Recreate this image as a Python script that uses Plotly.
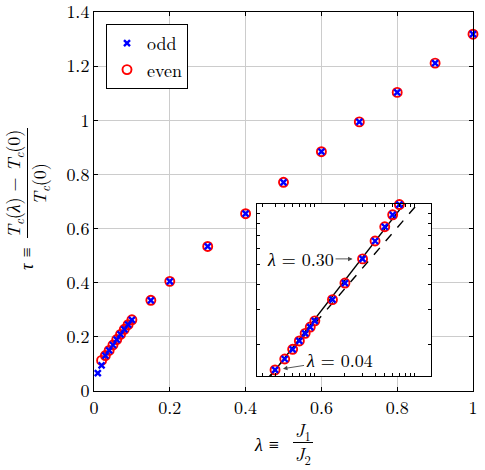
import numpy as np
import plotly.graph_objects as go

# ---------------- data ----------------
lam_odd = [0.01, 0.02, 0.03, 0.04, 0.05, 0.06, 0.07, 0.08, 0.09, 0.10,
           0.15, 0.2, 0.3, 0.4, 0.5, 0.6, 0.7, 0.8, 0.9, 1.0]
tau_odd = [0.066, 0.095, 0.131, 0.150, 0.170, 0.190, 0.209, 0.228, 0.245, 0.263,
           0.335, 0.405, 0.534, 0.655, 0.771, 0.884, 0.994, 1.103, 1.211, 1.318]

lam_even = [0.02, 0.03, 0.04, 0.05, 0.06, 0.07, 0.08, 0.09, 0.10,
            0.15, 0.2, 0.3, 0.4, 0.5, 0.6, 0.7, 0.8, 0.9, 1.0]
tau_even = [0.113, 0.131, 0.150, 0.170, 0.190, 0.209, 0.228, 0.245, 0.263,
            0.335, 0.405, 0.534, 0.655, 0.771, 0.884, 0.994, 1.103, 1.211, 1.318]

# power-law fits shown in the log-log inset: tau = A * lam**b
fit_solid = {"A": 1.173, "b": 0.64}
fit_dashed = {"A": 0.965, "b": 0.578}

x_ticks = [0, 0.2, 0.4, 0.6, 0.8, 1]
y_ticks = [0, 0.2, 0.4, 0.6, 0.8, 1, 1.2, 1.4]
y_ticktext = ["0", "0.2", "0.4", "0.6", "0.8", "1", "1.2", "1.4"]

inset_xrange = [0.0264, 1.45]
inset_yrange = [0.140, 1.0]

# ---------------- style ----------------
FONT = "Latin Modern Roman"
FS = 18
BLUE = "#0000ff"
RED = "#ff0000"
GRID = "#cccccc"

W, H = 485, 470


def px(x):
    return x / W


def py(y):
    return (H - y) / H


fig = go.Figure()

odd_marker = dict(symbol="x-thin-open", size=6, color=BLUE, line=dict(color=BLUE, width=2.4))
even_marker = dict(symbol="circle-open", size=9, color=RED, line=dict(color=RED, width=1.9))

# main plot
fig.add_trace(go.Scatter(x=lam_even, y=tau_even, mode="markers", name="even",
                         marker=even_marker, cliponaxis=False, legendrank=2,
                         xaxis="x", yaxis="y"))
fig.add_trace(go.Scatter(x=lam_odd, y=tau_odd, mode="markers", name="odd",
                         marker=odd_marker, cliponaxis=False, legendrank=1,
                         xaxis="x", yaxis="y"))


# inset (log-log)
def in_inset(lams, taus):
    xs, ys = [], []
    for l, t in zip(lams, taus):
        if inset_xrange[0] <= l <= inset_xrange[1] and inset_yrange[0] <= t <= inset_yrange[1]:
            xs.append(l)
            ys.append(t)
    return xs, ys


fit_lam = np.array([0.02, 1.5])
for fit, dash in ((fit_solid, "solid"), (fit_dashed, "dash")):
    fig.add_trace(go.Scatter(x=fit_lam, y=fit["A"] * fit_lam ** fit["b"], mode="lines",
                             line=dict(color="black", width=1.4, dash=dash),
                             showlegend=False, xaxis="x2", yaxis="y2", hoverinfo="skip"))

xe, ye = in_inset(lam_even, tau_even)
xo, yo = in_inset(lam_odd, tau_odd)
fig.add_trace(go.Scatter(x=xe, y=ye, mode="markers", marker=even_marker, cliponaxis=False,
                         showlegend=False, xaxis="x2", yaxis="y2"))
fig.add_trace(go.Scatter(x=xo, y=yo, mode="markers", marker=odd_marker, cliponaxis=False,
                         showlegend=False, xaxis="x2", yaxis="y2"))

tickfont = dict(family=FONT, size=FS, color="black")
axis_common = dict(showline=True, linecolor="black", linewidth=1, mirror="ticks",
                   ticks="inside", ticklen=4, tickcolor="black", zeroline=False,
                   automargin=False, tickfont=tickfont, ticklabeloverflow="allow")

fig.update_layout(
    template="none",
    width=W, height=H,
    margin=dict(l=0, r=0, t=0, b=0, autoexpand=False),
    paper_bgcolor="white", plot_bgcolor="white",
    font=dict(family=FONT, size=FS, color="black"),
    xaxis=dict(domain=[px(94), px(473)], range=[0, 1], tickvals=x_ticks,
               showgrid=True, gridcolor=GRID, gridwidth=1, **axis_common),
    yaxis=dict(domain=[py(391), py(12)], range=[0, 1.4], tickvals=y_ticks,
               ticktext=y_ticktext,
               showgrid=True, gridcolor=GRID, gridwidth=1, **axis_common),
    xaxis2=dict(domain=[px(257), px(431)], type="log",
                range=[np.log10(inset_xrange[0]), np.log10(inset_xrange[1])],
                anchor="y2", dtick="D1", showticklabels=False, showgrid=False,
                **{**axis_common, "ticklen": 3}),
    yaxis2=dict(domain=[py(376), py(204)], type="log",
                range=[np.log10(inset_yrange[0]), np.log10(inset_yrange[1])],
                anchor="x2", dtick="D1", showticklabels=False, showgrid=False,
                **{**axis_common, "ticklen": 3}),
    legend=dict(x=px(106), y=py(24), xanchor="left", yanchor="top",
                bgcolor="white", bordercolor="black", borderwidth=1,
                font=dict(family=FONT, size=FS, color="black"), traceorder="normal",
                itemwidth=30, tracegroupgap=0),
    showlegend=True,
)

ann = []
afont = dict(family=FONT, size=FS, color="black")
# inset annotations
ann.append(dict(x=np.log10(0.3), y=np.log10(0.534), xref="x2", yref="y2",
                text="<i>λ</i> = 0.30", showarrow=True, ax=-62, ay=0,
                arrowhead=2, arrowsize=1, arrowwidth=0.9, standoff=10, font=afont))
ann.append(dict(x=np.log10(0.04), y=np.log10(0.150), xref="x2", yref="y2",
                text="<i>λ</i> = 0.04", showarrow=True, ax=64, ay=-10,
                arrowhead=2, arrowsize=1, arrowwidth=0.9, standoff=8, font=afont))

# x label: λ ≡ J1/J2
ann.append(dict(x=px(266), y=py(443), xref="paper", yref="paper", text="<i>λ</i> ≡",
                showarrow=False, xanchor="center", yanchor="middle", font=afont))
ann.append(dict(x=px(303), y=py(431), xref="paper", yref="paper",
                text="<i>J</i><sub>1</sub>", showarrow=False, xanchor="center", yanchor="middle",
                font=afont))
ann.append(dict(x=px(303), y=py(455), xref="paper", yref="paper",
                text="<i>J</i><sub>2</sub>", showarrow=False, xanchor="center", yanchor="middle",
                font=afont))

# y label: τ ≡ (Tc(λ) − Tc(0)) / Tc(0)
ann.append(dict(x=px(25), y=py(259), xref="paper", yref="paper", text="<i>τ</i> ≡",
                textangle=-90, showarrow=False, xanchor="center", yanchor="middle", font=afont))
ann.append(dict(x=px(14), y=py(184), xref="paper", yref="paper",
                text="<i>T</i><sub><i>c</i></sub>(<i>λ</i>) − <i>T</i><sub><i>c</i></sub>(0)",
                textangle=-90, showarrow=False, xanchor="center", yanchor="middle", font=afont))
ann.append(dict(x=px(40), y=py(184), xref="paper", yref="paper",
                text="<i>T</i><sub><i>c</i></sub>(0)",
                textangle=-90, showarrow=False, xanchor="center", yanchor="middle", font=afont))
fig.update_layout(annotations=ann)

fig.add_shape(type="line", xref="paper", yref="paper", x0=px(293), x1=px(313),
              y0=py(442.5), y1=py(442.5), line=dict(color="black", width=1))
fig.add_shape(type="line", xref="paper", yref="paper", x0=px(27.5), x1=px(27.5),
              y0=py(238), y1=py(128), line=dict(color="black", width=1))

fig.write_html("out.html")
